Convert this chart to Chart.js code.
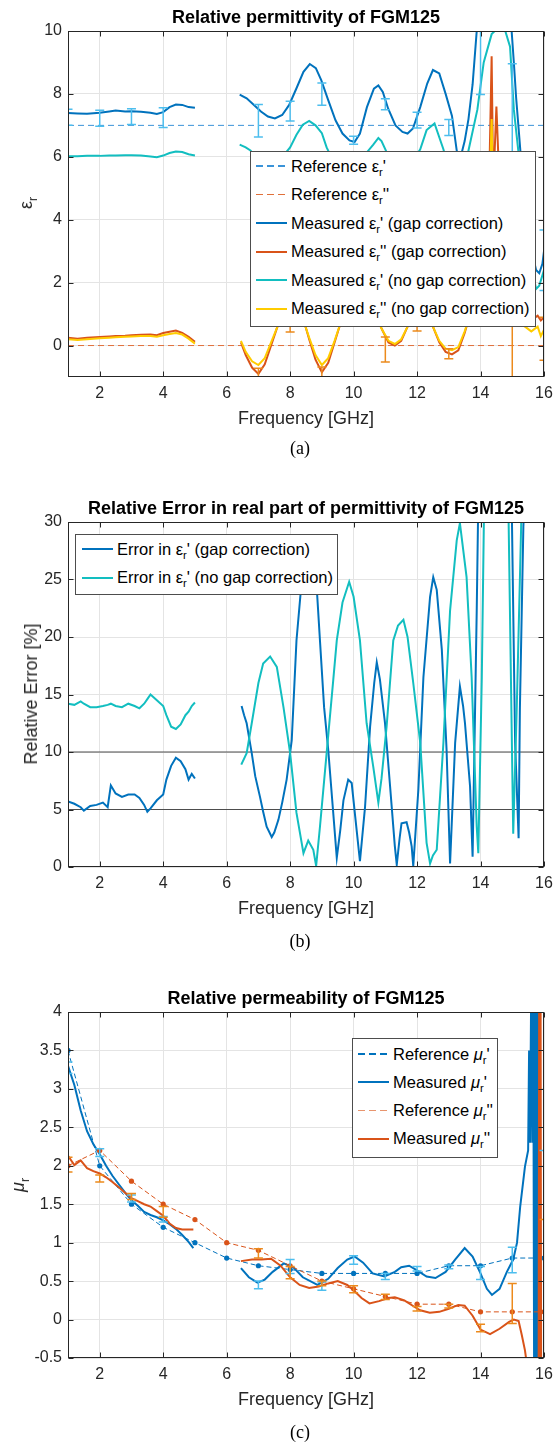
<!DOCTYPE html>
<html lang="en">
<head>
<meta charset="UTF-8">
<title>FGM125 permittivity and permeability</title>
<style>
  html, body { margin: 0; padding: 0; background: #fff; }
  #page { position: relative; width: 553px; height: 1442px; overflow: hidden; font-family: 'Liberation Sans', Arial, Helvetica, sans-serif; }
  canvas { position: absolute; left: 0; }
  .txt { position: absolute; transform: translate(-50%, -50%); white-space: nowrap; line-height: 1; }
  .title { font-weight: bold; font-size: 18px; color: #000; }
  .xlabel { font-size: 18px; color: #262626; }
  .ylabel { font-size: 18px; color: #262626; transform: translate(-50%, -50%) rotate(-90deg); }
  .caption { font-family: 'Liberation Serif', 'Times New Roman', serif; font-size: 18px; color: #000; }
  .legend { position: absolute; background: #fff; border: 1px solid #4d4d4d; box-sizing: border-box; font-size: 16.5px; color: #000; }
  .legend .row { position: absolute; display: flex; align-items: center; height: 22px; transform: translateY(-50%); white-space: nowrap; }
  .sample { display: inline-block; width: 31px; margin-right: 4px; }
  sub { font-size: 68%; vertical-align: -0.4em; line-height: 0; }
</style>
</head>
<body>
<div id="page">
  <canvas id="c1" width="553" height="412" style="top:0px"></canvas>
  <canvas id="c2" width="553" height="400" style="top:500px"></canvas>
  <canvas id="c3" width="553" height="392" style="top:1000px"></canvas>

  <div class="txt title" style="left:306px;top:17px">Relative permittivity of FGM125</div>
  <div class="txt xlabel" style="left:306px;top:418px">Frequency [GHz]</div>
  <div class="txt ylabel" style="left:26px;top:203px">ε<sub>r</sub></div>
  <div class="txt caption" style="left:300px;top:448px">(a)</div>

  <div class="txt title" style="left:306px;top:508px">Relative Error in real part of permittivity of FGM125</div>
  <div class="txt xlabel" style="left:306px;top:908px">Frequency [GHz]</div>
  <div class="txt ylabel" style="left:31px;top:694px">Relative Error [%]</div>
  <div class="txt caption" style="left:300px;top:941px">(b)</div>

  <div class="txt title" style="left:306px;top:998px">Relative permeability of FGM125</div>
  <div class="txt xlabel" style="left:306px;top:1399px">Frequency [GHz]</div>
  <div class="txt ylabel" style="left:18px;top:1185px"><i>μ</i><sub>r</sub></div>
  <div class="txt caption" style="left:300px;top:1432px">(c)</div>
</div>

<script src="https://cdn.jsdelivr.net/npm/chart.js"></script>
<script>
// ---- axes ----
const freqTicks = [2, 4, 6, 8, 10, 12, 14, 16];
const epsTicks = [0, 2, 4, 6, 8, 10];
const errTicks = [0, 5, 10, 15, 20, 25, 30];
const muTicks = [-0.5, 0, 0.5, 1, 1.5, 2, 2.5, 3, 3.5, 4];

// ---- (a) relative permittivity ----
const refFreq = [1, 16];
const refEpsReal = [7, 7];
const refEpsImag = [0, 0];

const epsFreqA = [1.0, 1.3, 1.6, 2.0, 2.3, 2.5, 2.8, 3.0, 3.3, 3.6, 3.8, 4.0, 4.2, 4.4, 4.6, 4.8, 5.0];
const epsGapRealA = [7.39, 7.38, 7.37, 7.40, 7.44, 7.47, 7.44, 7.45, 7.43, 7.40, 7.36, 7.42, 7.58, 7.66, 7.65, 7.58, 7.56];
const epsNoGapRealA = [6.02, 6.02, 6.03, 6.03, 6.04, 6.04, 6.05, 6.05, 6.04, 6.01, 5.99, 6.04, 6.12, 6.17, 6.15, 6.08, 6.04];
const epsGapImagA = [0.25, 0.22, 0.25, 0.27, 0.29, 0.30, 0.31, 0.33, 0.34, 0.35, 0.33, 0.40, 0.44, 0.48, 0.40, 0.28, 0.12];
const epsNoGapImagA = [0.20, 0.18, 0.20, 0.23, 0.25, 0.26, 0.28, 0.29, 0.30, 0.30, 0.28, 0.33, 0.37, 0.40, 0.35, 0.22, 0.06];

const epsGapRealFreqB = [6.41, 6.63, 6.86, 7.08, 7.3, 7.52, 7.75, 7.97, 8.2, 8.42, 8.62, 8.81, 8.98, 9.2, 9.43, 9.65, 9.87, 10.03, 10.2, 10.42,
  10.64, 10.78, 10.92, 11.09, 11.32, 11.54, 11.7, 11.87, 12.1, 12.32, 12.5, 12.7, 12.9, 13.1, 13.25, 13.35, 13.5, 13.62, 13.75, 13.88,
  14.0, 14.3, 14.6, 14.85, 14.98, 15.05, 15.12, 15.2, 15.27, 15.4, 15.55, 15.75, 15.85, 15.95, 16.0];
const epsGapRealB = [7.98, 7.86, 7.65, 7.44, 7.28, 7.22, 7.33, 7.65, 8.18, 8.7, 8.95, 8.82, 8.44, 7.8, 7.16, 6.74, 6.52, 6.47, 6.74, 7.58,
  8.17, 8.27, 8.06, 7.53, 7.0, 6.79, 6.74, 6.9, 7.58, 8.33, 8.76, 8.65, 8.0, 7.3, 6.2, 5.9, 6.5, 7.2, 8.3, 10.0,
  10.8, 11.5, 11.8, 11.0, 10.0, 9.0, 7.9, 6.9, 6.0, 4.6, 3.3, 2.4, 2.3, 2.6, 3.0];

const epsNoGapRealFreqB = [6.41, 6.6, 6.75, 7.0, 7.37, 7.6, 7.8, 8.0, 8.2, 8.4, 8.6, 8.8, 9.0, 9.15, 9.36, 9.6, 9.86, 10.05, 10.2, 10.41,
  10.62, 10.78, 10.88, 11.04, 11.25, 11.57, 11.88, 12.1, 12.3, 12.55, 12.83, 13.04, 13.35, 13.62, 13.9, 14.1, 14.35, 14.55, 14.75, 14.93,
  15.05, 15.19, 15.35, 15.55, 15.75, 15.85, 16.0];
const epsNoGapRealB = [6.39, 6.3, 6.2, 5.9, 5.72, 5.8, 6.05, 6.3, 6.7, 7.02, 7.14, 7.0, 6.75, 6.3, 5.86, 5.4, 5.26, 5.4, 5.62, 6.13,
  6.39, 6.6, 6.5, 6.15, 5.62, 5.5, 5.88, 6.24, 6.85, 7.06, 6.24, 5.44, 4.9, 6.2, 7.5, 9.0, 9.9, 10.1, 10.1, 9.5,
  7.5, 6.2, 4.5, 2.8, 1.8, 1.9, 2.4];

const epsImagFreqB = [6.45, 6.6, 6.8, 7.0, 7.2, 7.4, 7.6, 7.8, 8.0, 8.2, 8.4, 8.6, 8.8, 9.0, 9.2, 9.4, 9.6, 9.8, 10.0, 10.3,
  10.6, 10.9, 11.1, 11.3, 11.5, 11.7, 11.9, 12.1, 12.3, 12.5, 12.7, 12.9, 13.1, 13.3, 13.5, 13.7, 13.9,
  14.1, 14.25, 14.35, 14.4, 14.5, 14.6, 14.7, 14.9, 15.1, 15.4, 15.6, 15.8, 15.9, 16.0];
const epsGapImagB = [0.1, -0.3, -0.7, -0.9, -0.6, 0.0, 0.6, 1.3, 1.8, 1.6, 0.9, 0.2, -0.45, -0.85, -0.55, 0.1, 0.75, 1.4, 1.9, 1.9,
  1.2, 0.5, 0.1, 0.0, 0.15, 0.6, 1.1, 1.5, 1.2, 0.6, 0.1, -0.2, -0.28, -0.15, 0.4, 1.1, 1.8,
  2.5, 4.0, 9.2, 5.0, 7.6, 5.0, 2.5, 1.5, 1.2, 0.9, 0.8, 0.95, 0.8, 0.9];
const epsNoGapImagB = [0.15, -0.2, -0.5, -0.62, -0.4, 0.1, 0.6, 1.2, 1.7, 1.5, 0.85, 0.25, -0.3, -0.62, -0.4, 0.15, 0.75, 1.35, 1.8, 1.8,
  1.15, 0.5, 0.15, 0.05, 0.2, 0.6, 1.05, 1.45, 1.15, 0.6, 0.15, -0.1, -0.15, -0.05, 0.45, 1.05, 1.7,
  2.3, 3.5, 7.2, 4.5, 3.5, 2.5, 1.5, 1.0, 0.8, 0.6, 0.45, 0.6, 0.3, 0.5];

const epsRealErrX = [1, 2, 3, 4, 7, 8, 9, 10, 11, 12, 13, 14, 15, 16];
const epsRealErrLo = [7.0, 6.97, 7.03, 6.93, 6.63, 7.14, 7.64, 6.4, 7.5, 6.92, 6.68, 7.98, 4.5, 1.75];
const epsRealErrHi = [7.51, 7.48, 7.53, 7.56, 7.66, 7.77, 8.35, 6.65, 7.85, 7.42, 7.19, 10.0, 8.96, 3.67];
const epsImagErrX = [7, 8, 9, 11, 12, 13, 15, 16];
const epsImagErrLo = [-1.2, 0.43, -1.1, -0.52, 0.46, -0.42, -2.0, -0.47];
const epsImagErrHi = [-0.72, 1.5, -0.68, 0.27, 1.5, -0.1, 3.0, 0.9];

// ---- (b) relative error of real permittivity ----
const levelFreq = [1, 16];
const level5 = [5, 5];
const level10 = [10, 10];

const errFreqA = [1.0, 1.2, 1.4, 1.5, 1.7, 1.9, 2.1, 2.25, 2.35, 2.5, 2.7, 2.9, 3.1, 3.25, 3.4, 3.5, 3.6, 3.8, 4.0, 4.1, 4.25, 4.4, 4.55, 4.7, 4.8, 4.9, 5.0];
const errGapA = [5.7, 5.5, 5.2, 4.9, 5.3, 5.4, 5.6, 5.2, 7.1, 6.4, 6.1, 6.3, 6.3, 6.0, 5.4, 4.8, 5.1, 5.8, 6.3, 7.6, 8.8, 9.5, 9.2, 8.5, 7.6, 8.1, 7.7];
const errNoGapA = [14.2, 14.1, 14.4, 14.2, 13.9, 13.9, 14.0, 14.1, 14.2, 14.0, 13.9, 14.2, 14.0, 13.8, 14.2, 14.6, 15.0, 14.5, 14.0, 13.2, 12.2, 12.0, 12.4, 13.2, 13.5, 14.0, 14.3];

const errGapFreqB = [6.47, 6.55, 6.63, 6.79, 6.9, 7.05, 7.15, 7.26, 7.35, 7.42, 7.5, 7.63, 7.75, 7.89, 8.05, 8.2, 8.4, 8.6, 8.8, 8.94,
  9.07, 9.2, 9.35, 9.47, 9.58, 9.68, 9.83, 9.94, 10.05, 10.2, 10.36, 10.52, 10.65, 10.73, 10.83, 10.99, 11.15, 11.3, 11.36, 11.45,
  11.51, 11.67, 11.75, 11.83, 11.88, 12.04, 12.2, 12.41, 12.51, 12.62, 12.78, 12.93, 13.04, 13.2, 13.35, 13.45, 13.51, 13.67, 13.75, 13.88,
  13.93, 14.5, 14.98, 15.09, 15.2, 15.24, 15.35, 15.5, 16.0];
const errGapB = [14.0, 13.2, 12.5, 9.9, 7.9, 6.1, 4.8, 3.5, 3.0, 2.6, 3.0, 4.1, 5.6, 7.6, 11.0, 19.7, 26, 28.5, 26, 19.7,
  13.9, 10.2, 5.0, 0.8, 3.2, 5.8, 7.6, 7.3, 4.4, 0.5, 5.2, 12.2, 16, 17.8, 16.3, 12.5, 7.0, 1.8, 0.2, 2.5,
  3.8, 3.9, 3.0, 1.8, 0.1, 6.7, 16.5, 23.5, 25.2, 24.1, 18.9, 10.2, 0.3, 10.8, 15.7, 14.0, 12.5, 7.0, 0.9, 22.3,
  32, 45, 32, 10.8, 2.5, 13.7, 29.6, 40, 60];

const errNoGapFreqB = [6.46, 6.63, 6.79, 7.0, 7.15, 7.37, 7.58, 7.79, 8.0, 8.2, 8.42, 8.57, 8.73, 8.82, 8.94, 9.15, 9.36, 9.47, 9.65, 9.86,
  10.0, 10.2, 10.41, 10.62, 10.78, 10.88, 11.04, 11.25, 11.4, 11.57, 11.7, 11.88, 12.1, 12.3, 12.41, 12.5, 12.62, 12.83, 13.04, 13.25,
  13.35, 13.56, 13.72, 13.88, 13.93, 14.04, 14.11, 14.5, 14.88, 15.03, 15.14, 15.24, 15.3, 16.0];
const errNoGapB = [8.9, 9.9, 12.5, 16.0, 17.7, 18.3, 17.4, 13.9, 9.9, 4.7, 1.2, 2.3, 1.5, 0.1, 3.5, 9.9, 16.3, 19.7, 23.0, 24.8,
  23.5, 19.7, 12.5, 8.7, 5.6, 7.7, 12.2, 19.7, 21.0, 21.5, 20.0, 16.0, 10.8, 2.1, 0.3, 1.0, 1.5, 10.8, 22.3, 28.4,
  29.9, 25.2, 16.5, 3.5, 1.2, 16.5, 31, 45, 31, 2.9, 13.7, 25, 32, 60];

// ---- (c) relative permeability ----
const muRefFreq = [1, 2, 3, 4, 5, 6, 7, 8, 9, 10, 11, 12, 13, 14, 15, 16];
const muRefReal = [3.5, 2.0, 1.5, 1.2, 1.0, 0.8, 0.7, 0.65, 0.6, 0.6, 0.6, 0.6, 0.7, 0.7, 0.8, 0.8];
const muRefImag = [2.0, 2.2, 1.8, 1.5, 1.3, 1.0, 0.9, 0.7, 0.5, 0.4, 0.3, 0.2, 0.2, 0.1, 0.1, 0.1];

const muFreqA = [1.0, 1.2, 1.4, 1.6, 1.8, 2.0, 2.2, 2.4, 2.6, 2.8, 3.0, 3.2, 3.4, 3.6, 3.8, 4.0, 4.2, 4.4, 4.6, 4.8, 4.95];
const muRealA = [3.3, 3.05, 2.72, 2.45, 2.28, 2.15, 2.0, 1.87, 1.76, 1.65, 1.55, 1.48, 1.4, 1.36, 1.33, 1.29, 1.24, 1.18, 1.1, 1.01, 0.93];
const muImagA = [2.13, 2.01, 2.07, 1.97, 1.93, 1.9, 1.85, 1.79, 1.72, 1.65, 1.58, 1.54, 1.5, 1.47, 1.41, 1.35, 1.25, 1.19, 1.17, 1.17, 1.17];

const muRealFreqB = [6.45, 6.7, 6.97, 7.2, 7.45, 7.8, 8.1, 8.4, 8.86, 9.2, 9.5, 9.8, 10.03, 10.3, 10.6, 10.97, 11.3, 11.5, 11.75, 12.0,
  12.3, 12.58, 12.9, 13.2, 13.5, 13.75, 14.0, 14.2, 14.36, 14.6, 14.83, 15.03, 15.15, 15.25, 15.4, 15.5, 15.53, 15.56, 15.6, 15.63,
  15.66, 15.69, 15.72, 15.75, 15.78, 15.81];
const muRealB = [0.67, 0.55, 0.48, 0.52, 0.62, 0.73, 0.68, 0.55, 0.45, 0.53, 0.67, 0.78, 0.82, 0.74, 0.6, 0.56, 0.62, 0.68, 0.7, 0.64,
  0.56, 0.54, 0.62, 0.78, 0.93, 0.82, 0.6, 0.4, 0.32, 0.4, 0.62, 0.78, 1.0, 1.47, 1.99, 2.2, 3.5, 2.3, 4.5, 2.3,
  4.5, -1, 5, -1, 5, -1];

const muImagFreqB = [6.45, 6.8, 7.1, 7.4, 7.7, 8.0, 8.3, 8.6, 8.9, 9.2, 9.5, 9.8, 10.0, 10.25, 10.5, 10.8, 11.1, 11.3, 11.6, 11.9,
  12.1, 12.4, 12.7, 13.0, 13.3, 13.5, 13.75, 14.0, 14.3, 14.6, 14.9, 15.05, 15.2, 15.3, 15.4, 15.5, 15.83, 15.85, 15.87, 15.89, 15.91];
const muImagB = [0.76, 0.78, 0.78, 0.79, 0.7, 0.55, 0.45, 0.41, 0.43, 0.47, 0.5, 0.45, 0.38, 0.28, 0.21, 0.24, 0.28, 0.29, 0.25, 0.17,
  0.12, 0.09, 0.1, 0.14, 0.19, 0.18, 0.05, -0.13, -0.19, -0.12, -0.03, 0.0, -0.02, -0.2, -0.4, -0.7, -1, 5, -1, 5, -1];

const muRealErrX = [1, 2, 3, 4, 7, 8, 9, 10, 11, 12, 13, 14, 15, 16];
const muRealErrLo = [3.2, 2.12, 1.53, 1.27, 0.4, 0.6, 0.38, 0.72, 0.52, 0.63, 0.66, 0.52, 0.61, 2.2];
const muRealErrHi = [3.35, 2.22, 1.62, 1.34, 0.5, 0.78, 0.49, 0.83, 0.6, 0.69, 0.71, 0.69, 0.94, 4.5];
const muImagErrX = [1, 2, 3, 4, 7, 8, 9, 10, 11, 12, 13, 14, 15, 16];
const muImagErrLo = [1.92, 1.79, 1.56, 1.33, 0.8, 0.53, 0.44, 0.35, 0.26, 0.11, 0.15, -0.16, -0.05, -0.8];
const muImagErrHi = [2.11, 1.88, 1.64, 1.47, 0.92, 0.69, 0.5, 0.44, 0.33, 0.17, 0.2, -0.06, 0.47, 1.3];

// ---- colours ----
const BLUE = '#0072BD', ORANGE = '#D95319', TEAL = '#12BEC0', YELLOW = '#FFCC00';
const LIGHTBLUE = '#4DBEEE', AMBER = '#EC8A1C', REF_RE = '#3A93D8', REF_IM = '#E0703A', LEVEL = '#4d4d4d';

Chart.defaults.font.family = "'Liberation Sans', Arial, Helvetica, sans-serif";
Chart.defaults.color = '#262626';

function pts(xs, ys) { return xs.map((x, i) => ({ x: x, y: ys[i] })); }
// two measured bands with no data between 5 and 6.4 GHz
function joined(xa, ya, xb, yb) { return pts(xa, ya).concat([{ x: 5.7, y: null }], pts(xb, yb)); }

function line(data, color, width, dash) {
  return { data: data, borderColor: color, backgroundColor: color, borderWidth: width, borderDash: dash || [],
    pointRadius: 0, fill: false, tension: 0, spanGaps: false };
}

// box round the plot with inward ticks
const axesBox = {
  id: 'axesBox',
  afterDraw(chart) {
    const { ctx, chartArea: a, scales: { x, y } } = chart;
    const L = Math.round(a.left) + 0.5, R = Math.round(a.right) - 0.5;
    const T = Math.round(a.top) + 0.5, B = Math.round(a.bottom) - 0.5;
    ctx.save();
    ctx.strokeStyle = '#262626';
    ctx.lineWidth = 1;
    ctx.beginPath();
    x.ticks.forEach(t => {
      const px = Math.round(x.getPixelForValue(t.value)) + 0.5;
      ctx.moveTo(px, B); ctx.lineTo(px, B - 5);
      ctx.moveTo(px, T); ctx.lineTo(px, T + 5);
    });
    y.ticks.forEach(t => {
      const py = Math.round(y.getPixelForValue(t.value)) + 0.5;
      ctx.moveTo(L, py); ctx.lineTo(L + 5, py);
      ctx.moveTo(R, py); ctx.lineTo(R - 5, py);
    });
    ctx.stroke();
    ctx.strokeRect(L, T, R - L, B - T);
    ctx.restore();
  }
};

// vertical error bars with caps, placed through the chart scales
const errorBars = {
  id: 'errorBars',
  afterDatasetsDraw(chart, args, opts) {
    const { ctx, chartArea: a, scales: { x, y } } = chart;
    ctx.save();
    ctx.beginPath();
    ctx.rect(a.left, a.top, a.right - a.left, a.bottom - a.top);
    ctx.clip();
    (opts.sets || []).forEach(s => {
      ctx.strokeStyle = s.color;
      ctx.lineWidth = 1.5;
      ctx.beginPath();
      s.x.forEach((v, i) => {
        const px = x.getPixelForValue(v);
        const lo = y.getPixelForValue(s.lo[i]);
        const hi = y.getPixelForValue(s.hi[i]);
        ctx.moveTo(px, lo); ctx.lineTo(px, hi);
        ctx.moveTo(px - 4.5, lo); ctx.lineTo(px + 4.5, lo);
        ctx.moveTo(px - 4.5, hi); ctx.lineTo(px + 4.5, hi);
      });
      ctx.stroke();
    });
    ctx.restore();
  }
};

function makeChart(id, cfg) {
  return new Chart(document.getElementById(id), {
    type: 'line',
    data: { datasets: cfg.datasets },
    options: {
      responsive: false,
      animation: false,
      devicePixelRatio: 1,
      layout: { padding: { top: cfg.padTop, right: 9, bottom: 0, left: 0 } },
      plugins: {
        legend: { display: false },
        tooltip: { enabled: false },
        errorBars: { sets: cfg.errSets }
      },
      scales: {
        x: {
          type: 'linear', min: 1, max: 16,
          afterBuildTicks: s => { s.ticks = freqTicks.map(v => ({ value: v })); },
          afterFit: s => { s.height = cfg.xHeight; s.paddingLeft = 0; s.paddingRight = 0; },
          grid: { color: '#e4e4e4', drawTicks: false },
          border: { display: false },
          ticks: { padding: 7, font: { size: 16 }, maxRotation: 0, autoSkip: false, callback: v => String(v) }
        },
        y: {
          type: 'linear', min: cfg.yMin, max: cfg.yMax,
          afterBuildTicks: s => { s.ticks = cfg.yTicks.map(v => ({ value: v })); },
          afterFit: s => { s.width = 68; s.paddingTop = 0; s.paddingBottom = 0; },
          grid: { color: '#e4e4e4', drawTicks: false },
          border: { display: false },
          ticks: { padding: 6, font: { size: 16 }, autoSkip: false, callback: v => String(v) }
        }
      }
    },
    plugins: [axesBox, errorBars]
  });
}

// (a)
makeChart('c1', {
  padTop: 31, xHeight: 35, yMin: -1, yMax: 10, yTicks: epsTicks,
  datasets: [
    line(joined(epsFreqA, epsNoGapImagA, epsImagFreqB, epsNoGapImagB), YELLOW, 2),
    line(joined(epsFreqA, epsNoGapRealA, epsNoGapRealFreqB, epsNoGapRealB), TEAL, 2),
    line(joined(epsFreqA, epsGapImagA, epsImagFreqB, epsGapImagB), ORANGE, 2),
    line(joined(epsFreqA, epsGapRealA, epsGapRealFreqB, epsGapRealB), BLUE, 2),
    line(pts(refFreq, refEpsImag), REF_IM, 1, [6, 4]),
    line(pts(refFreq, refEpsReal), REF_RE, 1, [6, 4])
  ],
  errSets: [
    { x: epsRealErrX, lo: epsRealErrLo, hi: epsRealErrHi, color: LIGHTBLUE },
    { x: epsImagErrX, lo: epsImagErrLo, hi: epsImagErrHi, color: AMBER }
  ]
});

// (b)
makeChart('c2', {
  padTop: 22, xHeight: 33, yMin: 0, yMax: 30, yTicks: errTicks,
  datasets: [
    line(joined(errFreqA, errNoGapA, errNoGapFreqB, errNoGapB), TEAL, 2),
    line(joined(errFreqA, errGapA, errGapFreqB, errGapB), BLUE, 2),
    line(pts(levelFreq, level10), LEVEL, 1.2),
    line(pts(levelFreq, level5), LEVEL, 1.2)
  ],
  errSets: []
});

// (c)
const refMuIm = line(pts(muRefFreq, muRefImag), ORANGE, 1, [5, 3]);
const refMuRe = line(pts(muRefFreq, muRefReal), BLUE, 1, [5, 3]);
[refMuIm, refMuRe].forEach(d => { d.pointRadius = 2.6; d.pointBorderWidth = 0; });
makeChart('c3', {
  padTop: 12, xHeight: 34, yMin: -0.5, yMax: 4, yTicks: muTicks,
  datasets: [
    line(joined(muFreqA, muImagA, muImagFreqB, muImagB), ORANGE, 2),
    refMuIm,
    line(joined(muFreqA, muRealA, muRealFreqB, muRealB), BLUE, 2),
    refMuRe
  ],
  errSets: [
    { x: muRealErrX, lo: muRealErrLo, hi: muRealErrHi, color: LIGHTBLUE },
    { x: muImagErrX, lo: muImagErrLo, hi: muImagErrHi, color: AMBER }
  ]
});

// ---- legends (drawn over the plot, like the originals) ----
function buildLegend(box, entries) {
  const el = document.createElement('div');
  el.className = 'legend';
  el.style.left = box.left + 'px';
  el.style.top = box.top + 'px';
  el.style.width = box.width + 'px';
  el.style.height = box.height + 'px';
  entries.forEach((e, i) => {
    const row = document.createElement('div');
    row.className = 'row';
    row.style.top = (box.first + i * box.step) + 'px';
    row.style.left = box.pad + 'px';
    const s = document.createElement('span');
    s.className = 'sample';
    if (e.dash) {
      s.style.height = '1.3px';
      s.style.background = 'repeating-linear-gradient(90deg, ' + e.color + ' 0 7px, transparent 7px 11px)';
    } else {
      s.style.height = '2px';
      s.style.background = e.color;
    }
    row.appendChild(s);
    const t = document.createElement('span');
    t.innerHTML = e.label;
    row.appendChild(t);
    el.appendChild(row);
  });
  document.getElementById('page').appendChild(el);
}

buildLegend({ left: 250, top: 151, width: 286, height: 176, first: 14, step: 28.5, pad: 5 }, [
  { label: "Reference ε<sub>r</sub>'", color: REF_RE, dash: true },
  { label: "Reference ε<sub>r</sub>''", color: REF_IM, dash: true },
  { label: "Measured ε<sub>r</sub>' (gap correction)", color: BLUE },
  { label: "Measured ε<sub>r</sub>'' (gap correction)", color: ORANGE },
  { label: "Measured ε<sub>r</sub>' (no gap correction)", color: TEAL },
  { label: "Measured ε<sub>r</sub>'' (no gap correction)", color: YELLOW }
]);

buildLegend({ left: 75, top: 534, width: 263, height: 61, first: 14, step: 28.7, pad: 6 }, [
  { label: "Error in ε<sub>r</sub>' (gap correction)", color: BLUE },
  { label: "Error in ε<sub>r</sub>' (no gap correction)", color: TEAL }
]);

buildLegend({ left: 352, top: 1038, width: 146, height: 120, first: 15, step: 28.3, pad: 5 }, [
  { label: "Reference <i>μ</i><sub>r</sub>'", color: BLUE, dash: true },
  { label: "Measured <i>μ</i><sub>r</sub>'", color: BLUE },
  { label: "Reference <i>μ</i><sub>r</sub>''", color: '#E8956E', dash: true },
  { label: "Measured <i>μ</i><sub>r</sub>''", color: ORANGE }
]);
</script>
</body>
</html>
